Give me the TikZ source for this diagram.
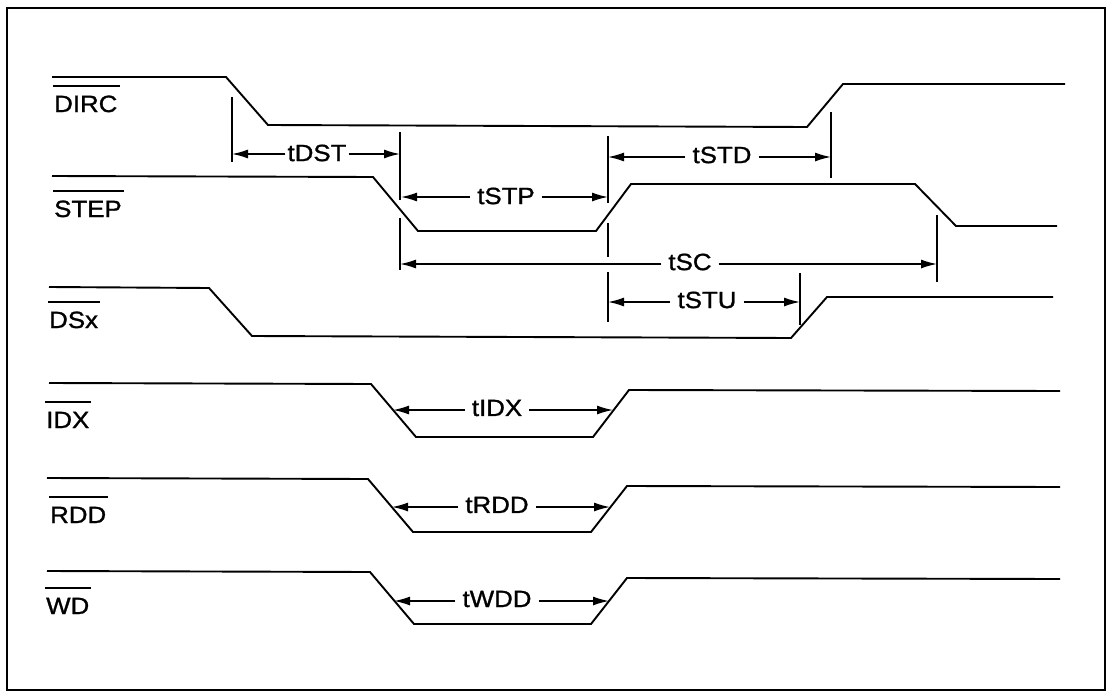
\documentclass[tikz,border=0pt]{standalone}
\usepackage{fontspec}
\setmainfont[FakeStretch=1.1,FakeBold=1.2]{Liberation Sans}
\usetikzlibrary{arrows.meta}
\begin{document}
\begin{tikzpicture}[x=1pt,y=-1pt,
  sig/.style={line width=1.9pt, line join=miter},
  tick/.style={line width=1.5pt},
  dim/.style={line width=1.5pt},
  tip/.style={-{Latex[length=16pt,width=9pt]}},
  lab/.style={font=\fontsize{23.5}{27}\selectfont, inner sep=0pt, anchor=base west},
  tlab/.style={font=\fontsize{23.5}{27}\selectfont, inner ysep=2pt, inner xsep=7pt},
  ovl/.style={line width=1.8pt}
]
\useasboundingbox (0,0) rectangle (1110,693);
\draw[line width=1.7pt] (7,8) rectangle (1105,690);

% signal labels
\node[lab] (lDIRC) at (54,112) {DIRC};
\node[lab] (lSTEP) at (54,217) {STEP};
\node[lab] (lDSx)  at (49,328) {DSx};
\node[lab] (lIDX)  at (46,428) {IDX};
\node[lab] (lRDD)  at (50,523) {RDD};
\node[lab] (lWD)   at (46,614) {WD};
\foreach \n in {lDIRC,lSTEP,lDSx,lIDX,lRDD,lWD}
  \draw[ovl] ([yshift=26pt,xshift=-1pt]\n.base west) -- ([yshift=26pt,xshift=2pt]\n.base east);

% waveforms
\draw[sig] (52,77) -- (226,77) -- (268,125) -- (807,127) -- (843,84) -- (1065,84);
\draw[sig] (52,176) -- (373,177) -- (418,231) -- (596,231) -- (631,184) -- (915,184) -- (956,226) -- (1057,226);
\draw[sig] (49,287) -- (209,288) -- (252,336) -- (791,338) -- (827,297) -- (1053,297);
\draw[sig] (49,383) -- (371,384) -- (416,437) -- (593,437) -- (629,390) -- (1060,391);
\draw[sig] (47,478) -- (368,479) -- (413,532) -- (591,532) -- (627,486) -- (1060,487);
\draw[sig] (47,571) -- (370,572) -- (414,624) -- (591,624) -- (627,578) -- (1060,579);

% ticks
\draw[tick] (232,97) -- (232,162);
\draw[tick] (400,132) -- (400,200);
\draw[tick] (400,218) -- (400,270);
\draw[tick] (608,136) -- (608,203);
\draw[tick] (608,223) -- (608,257);
\draw[tick] (608,272) -- (608,322);
\draw[tick] (831,112) -- (831,178);
\draw[tick] (937,215) -- (937,282);
\draw[tick] (800,273) -- (800,325);

% dimension end points
\coordinate (dstL) at (232,154); \coordinate (dstR) at (400,154);
\coordinate (stpL) at (401,197); \coordinate (stpR) at (608,197);
\coordinate (stdL) at (608,157); \coordinate (stdR) at (831,157);
\coordinate (scL)  at (400,264); \coordinate (scR)  at (937,264);
\coordinate (stuL) at (608,302); \coordinate (stuR) at (800,302);
\coordinate (idxL) at (393,410); \coordinate (idxR) at (613,410);
\coordinate (rddL) at (392,507); \coordinate (rddR) at (610,507);
\coordinate (wddL) at (394,601); \coordinate (wddR) at (609,601);

% dimension labels
\node[tlab, inner xsep=2pt] (tDST) at (317,153) {tDST};
\node[tlab] (tSTP) at (506,196) {tSTP};
\node[tlab] (tSTD) at (722,155) {tSTD};
\node[tlab] (tSC)  at (690,262) {tSC};
\node[tlab] (tSTU) at (707,300) {tSTU};
\node[tlab] (tIDX) at (497,408) {tIDX};
\node[tlab] (tRDD) at (497,505) {tRDD};
\node[tlab] (tWDD) at (497,599) {tWDD};

\foreach \t/\a/\b in {tDST/dstL/dstR, tSTP/stpL/stpR, tSTD/stdL/stdR, tSC/scL/scR,
                      tSTU/stuL/stuR, tIDX/idxL/idxR, tRDD/rddL/rddR, tWDD/wddL/wddR} {
  \draw[dim,tip] (\a -| \t.west) -- (\a);
  \draw[dim,tip] (\b -| \t.east) -- (\b);
}
\end{tikzpicture}
\end{document}
